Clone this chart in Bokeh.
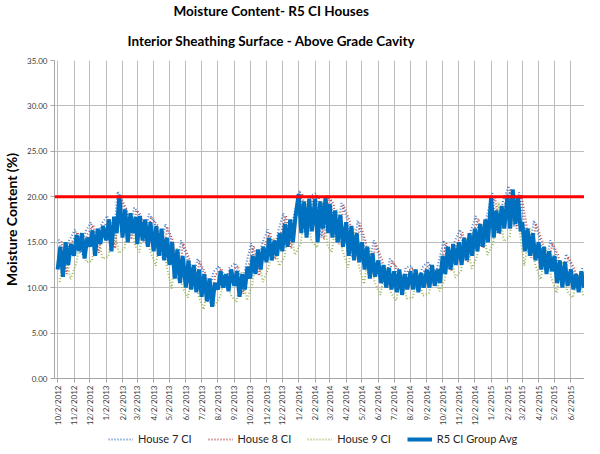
import math
import datetime
import pandas as pd
from bokeh.plotting import figure
from bokeh.layouts import column
from bokeh.models import (ColumnDataSource, FixedTicker, Span, Legend, LegendItem,
                          Title, NumeralTickFormatter, Range1d)
from bokeh.embed import file_html
from bokeh.resources import INLINE

# ---------------- data ----------------
tick_labels = ["10/2/2012", "11/2/2012", "12/2/2012", "1/2/2013", "2/2/2013", "3/2/2013",
               "4/2/2013", "5/2/2013", "6/2/2013", "7/2/2013", "8/2/2013", "9/2/2013",
               "10/2/2013", "11/2/2013", "12/2/2013", "1/2/2014", "2/2/2014", "3/2/2014",
               "4/2/2014", "5/2/2014", "6/2/2014", "7/2/2014", "8/2/2014", "9/2/2014",
               "10/2/2014", "11/2/2014", "12/2/2014", "1/2/2015", "2/2/2015", "3/2/2015",
               "4/2/2015", "5/2/2015", "6/2/2015"]

# R5 CI Group Avg, six readings per month (days 2, 7, 12, 17, 22, 27)
avg_days = [2, 7, 12, 17, 22, 27]
group_avg = [
    12.0, 14.5, 11.2, 15.0, 12.5, 14.8,
    13.5, 15.8, 14.0, 16.0, 13.2, 15.5,
    14.5, 16.3, 13.5, 16.5, 14.8, 16.8,
    15.2, 17.5, 14.0, 17.8, 16.0, 20.2,
    15.5, 18.6, 15.0, 18.2, 16.0, 17.8,
    14.8, 17.9, 15.2, 17.5, 14.5, 17.2,
    14.0, 16.8, 13.5, 16.5, 13.0, 15.5,
    12.5, 15.0, 11.0, 14.2, 10.5, 13.5,
    10.0, 13.0, 9.8, 12.5, 9.5, 12.0,
    9.0, 11.5, 8.5, 11.0, 7.9, 10.5,
    9.8, 11.8, 10.0, 11.5, 9.6, 12.0,
    10.2, 11.8, 9.0, 11.5, 9.8, 12.3,
    11.0, 13.5, 11.5, 14.2, 12.0, 14.5,
    12.8, 15.5, 13.0, 15.2, 13.5, 16.0,
    14.0, 17.0, 14.5, 17.5, 15.0, 17.8,
    20.3, 16.0, 19.5, 15.5, 19.8, 16.2,
    19.8, 15.0, 19.5, 16.5, 20.0, 16.0,
    19.2, 15.5, 18.5, 15.0, 18.0, 14.5,
    17.2, 13.5, 16.8, 13.0, 16.0, 12.8,
    15.0, 12.0, 14.5, 11.0, 13.8, 11.2,
    13.0, 10.5, 12.5, 10.0, 12.2, 9.8,
    11.8, 9.5, 12.0, 9.2, 11.5, 9.8,
    11.8, 9.8, 12.0, 9.5, 11.6, 10.0,
    12.0, 10.0, 12.5, 10.2, 12.0, 10.5,
    13.5, 11.5, 14.5, 12.0, 14.8, 12.5,
    15.0, 12.5, 15.5, 13.0, 16.0, 13.5,
    16.5, 14.0, 17.0, 14.5, 17.5, 15.0,
    20.0, 15.5, 18.5, 16.0, 19.0, 16.5,
    20.2, 16.5, 20.8, 17.0, 20.0, 16.2,
    17.2, 14.0, 16.5, 13.5, 16.0, 13.0,
    15.0, 12.0, 14.5, 11.5, 14.0, 11.8,
    13.5, 10.5, 13.0, 10.0, 12.8, 10.2,
    12.0, 9.8, 11.5, 9.5, 11.8, 10.0,
]

# individual houses, three readings per month
house7_days = [4, 14, 24]
house7 = [
    15.3, 11.8, 15.2, 16.4, 13.8, 16.2, 17.2, 14.0, 17.0, 17.9, 14.5, 20.6,
    19.0, 15.6, 18.8, 18.3, 15.0, 18.1, 17.2, 13.6, 17.0, 15.4, 11.0, 15.2,
    13.4, 10.0, 13.2, 11.9, 8.4, 11.7, 12.4, 10.1, 12.2, 12.7, 9.5, 12.5,
    14.9, 11.5, 14.7, 16.4, 13.3, 16.2, 18.2, 14.5, 18.0, 20.7, 16.0, 20.1,
    20.4, 15.5, 20.2, 19.6, 15.0, 19.3, 17.6, 13.3, 17.4, 15.4, 11.5, 15.2,
    13.4, 10.3, 13.2, 12.4, 9.7, 12.2, 12.4, 10.0, 12.2, 12.9, 10.5, 12.7,
    15.2, 12.0, 15.0, 16.4, 13.0, 16.2, 17.9, 14.5, 17.7, 20.4, 16.0, 19.4,
    21.2, 16.7, 20.5, 17.6, 13.5, 17.4, 15.4, 12.0, 15.2, 13.9, 10.5, 13.7,
    12.4, 10.0, 12.2,
]
house8_days = [9, 19, 28]
house8 = [
    15.1, 11.5, 14.9, 16.1, 13.5, 15.9, 16.9, 13.8, 16.7, 17.6, 14.3, 20.1,
    18.7, 15.3, 18.5, 18.0, 14.8, 17.8, 16.9, 13.3, 16.7, 15.1, 10.8, 14.9,
    13.1, 9.8, 12.9, 11.6, 8.2, 11.4, 12.1, 9.9, 11.9, 12.4, 9.3, 12.2,
    14.6, 11.3, 14.4, 16.1, 13.1, 15.9, 17.9, 14.3, 17.7, 20.4, 15.8, 19.8,
    20.1, 15.3, 19.9, 19.3, 14.8, 19.1, 17.3, 13.1, 17.1, 15.1, 11.3, 14.9,
    13.1, 10.1, 12.9, 12.1, 9.5, 11.9, 12.1, 9.8, 11.9, 12.6, 10.3, 12.4,
    14.9, 11.8, 14.7, 16.1, 12.8, 15.9, 17.6, 14.3, 17.4, 20.1, 15.8, 19.1,
    20.9, 16.5, 20.3, 17.3, 13.3, 17.1, 15.1, 11.8, 14.9, 13.6, 10.3, 13.4,
    12.1, 9.8, 11.9,
]
house9_days = [6, 16, 26]
house9 = [
    10.6, 14.5, 10.9, 12.6, 15.5, 12.8, 12.9, 16.3, 13.2, 13.4, 17.0, 13.8,
    14.4, 18.0, 14.6, 13.9, 17.3, 14.1, 12.4, 16.2, 12.6, 9.9, 14.4, 10.1,
    8.9, 12.4, 9.1, 7.6, 10.9, 8.0, 9.0, 11.4, 9.2, 8.4, 11.7, 8.6,
    10.4, 13.9, 10.6, 12.2, 15.4, 12.4, 13.4, 17.2, 13.6, 14.9, 19.5, 15.1,
    14.4, 19.4, 14.6, 13.9, 18.6, 14.1, 12.2, 16.6, 12.4, 10.4, 14.4, 10.6,
    9.2, 12.4, 9.4, 8.6, 11.4, 8.8, 8.9, 11.4, 9.1, 9.4, 11.9, 9.6,
    10.9, 14.2, 11.1, 11.9, 15.4, 12.1, 13.4, 16.9, 13.6, 14.9, 19.4, 15.1,
    15.6, 20.2, 15.8, 12.4, 16.6, 12.6, 10.9, 14.4, 11.1, 9.4, 12.9, 9.6,
    8.9, 11.4, 9.1,
]
threshold = 20.0
y_ticks = [0, 5, 10, 15, 20, 25, 30, 35]
series_names = ["House 7 CI", "House 8 CI", "House 9 CI", "R5 CI Group Avg"]

# ---------------- helpers ----------------
month_dates = [datetime.datetime.strptime(s, "%m/%d/%Y") for s in tick_labels]


def ms(d):
    return float(pd.Timestamp(d).value // 10**6)


def dates_for(values, days):
    out = []
    for i in range(len(values)):
        m = month_dates[i // len(days)]
        out.append(ms(datetime.datetime(m.year, m.month, days[i % len(days)])))
    return out


styles = [dict(line_color="#4a7fd0", line_width=2, line_dash="1 2"),
          dict(line_color="#c0504d", line_width=2, line_dash="1 2"),
          dict(line_color="#9bbb59", line_width=2, line_dash="1 2"),
          dict(line_color="#0070c0", line_width=4)]

sources = [ColumnDataSource(dict(x=dates_for(house7, house7_days), y=house7)),
           ColumnDataSource(dict(x=dates_for(house8, house8_days), y=house8)),
           ColumnDataSource(dict(x=dates_for(house9, house9_days), y=house9)),
           ColumnDataSource(dict(x=dates_for(group_avg, avg_days), y=group_avg))]

# ---------------- main figure ----------------
p = figure(width=584, height=428, output_backend="svg", toolbar_location=None,
           min_border_left=51, min_border_right=0, min_border_top=59, min_border_bottom=40,
           x_range=Range1d(ms(datetime.datetime(2012, 9, 26)), ms(datetime.datetime(2015, 6, 28))),
           y_range=Range1d(0, 35))
p.background_fill_color = "white"
p.border_fill_color = "white"
p.outline_line_color = None

title_font = "Lato"
p.add_layout(Title(text="Interior Sheathing Surface - Above Grade Cavity", align="left",
                   offset=73, text_font=title_font, text_font_size="13.5px",
                   text_font_style="bold", text_color="black", standoff=24), "above")
p.add_layout(Title(text="Moisture Content- R5 CI Houses", align="left",
                   offset=119, text_font=title_font, text_font_size="13.5px",
                   text_font_style="bold", text_color="black", standoff=0), "above")

for src, st in zip(sources, styles):
    p.line("x", "y", source=src, **st)

p.add_layout(Span(location=threshold, dimension="width", line_color="#ff0000", line_width=3))

tick_ms = [ms(d) for d in month_dates]
p.xaxis.ticker = FixedTicker(ticks=tick_ms)
p.xaxis.major_label_overrides = {t: s for t, s in zip(tick_ms, tick_labels)}
p.xaxis.major_label_orientation = math.pi / 2
p.xaxis.major_label_text_font = "Lato"
p.xaxis.major_label_text_font_size = "8px"
p.xaxis.major_label_text_color = "#404040"
p.xaxis.axis_line_color = "#a6a6a6"
p.xaxis.major_tick_line_color = "#a6a6a6"
p.xaxis.major_tick_out = 4
p.xaxis.major_tick_in = 0
p.xaxis.minor_tick_line_color = None
p.xaxis.major_label_standoff = 3

p.yaxis.ticker = FixedTicker(ticks=y_ticks)
p.yaxis.formatter = NumeralTickFormatter(format="0.00")
p.yaxis.major_label_text_font = "Lato"
p.yaxis.major_label_text_font_size = "8px"
p.yaxis.major_label_text_color = "#404040"
p.yaxis.axis_line_color = "#a6a6a6"
p.yaxis.major_tick_line_color = "#a6a6a6"
p.yaxis.major_tick_out = 4
p.yaxis.major_tick_in = 0
p.yaxis.minor_tick_line_color = None
p.yaxis.major_label_standoff = 3
p.yaxis.axis_label = "Moisture Content (%)"
p.yaxis.axis_label_text_font = "Lato"
p.yaxis.axis_label_text_font_size = "14px"
p.yaxis.axis_label_text_font_style = "bold"
p.yaxis.axis_label_text_color = "black"
p.yaxis.axis_label_standoff = 4

p.xgrid.grid_line_color = "#bcbcbc"
p.ygrid.grid_line_color = "#bcbcbc"
p.xgrid.ticker = FixedTicker(ticks=tick_ms)
p.ygrid.ticker = FixedTicker(ticks=y_ticks)

# ---------------- legend strip (same sources, out of its view) ----------------
lf = figure(width=584, height=22, output_backend="svg", toolbar_location=None,
            min_border=0, min_border_left=0, min_border_right=0,
            min_border_top=0, min_border_bottom=0,
            x_axis_location=None, y_axis_location=None,
            x_range=Range1d(0, 1), y_range=Range1d(0, 1))
lf.outline_line_color = None
lf.xgrid.visible = False
lf.ygrid.visible = False
items = []
for name, st, src in zip(series_names, styles, sources):
    r = lf.line("x", "y", source=src, **st)
    items.append(LegendItem(label=name, renderers=[r]))
legend = Legend(items=items, orientation="horizontal", location=(54, 5),
                label_text_font="Lato", label_text_font_size="11px",
                label_text_color="#262626", border_line_color=None,
                background_fill_alpha=0, glyph_width=25, glyph_height=12,
                spacing=16, padding=2, margin=0, label_standoff=5)
lf.add_layout(legend, "center")

open("out.html", "w").write(file_html(column(p, lf, spacing=0), INLINE))
